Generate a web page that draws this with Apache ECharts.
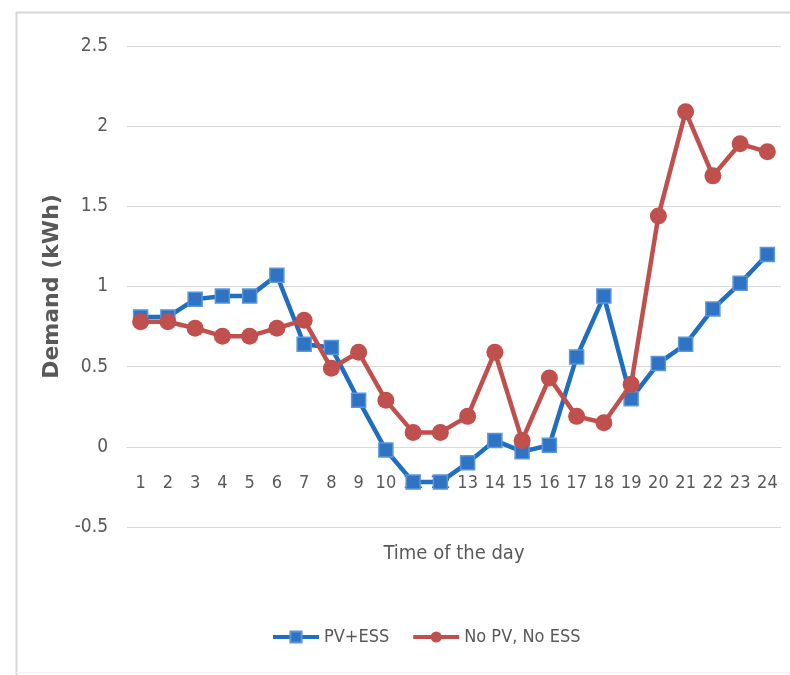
<!DOCTYPE html>
<html>
<head>
<meta charset="utf-8">
<script src="https://cdn.jsdelivr.net/npm/echarts@6/dist/echarts.min.js"></script>
<style>
  html, body { margin: 0; padding: 0; background: #ffffff; }
  #chart { width: 790px; height: 675px; }
</style>
</head>
<body>
<div id="chart"></div>
<script>
// Hour of the day (1..24)
const hours = ['1','2','3','4','5','6','7','8','9','10','11','12','13','14','15','16','17','18','19','20','21','22','23','24'];

// Net demand with PV and storage (kWh)
const pvEss = [0.81, 0.81, 0.92, 0.94, 0.94, 1.07, 0.64, 0.62, 0.29, -0.02, -0.22, -0.22,
               -0.10, 0.04, -0.03, 0.01, 0.56, 0.94, 0.30, 0.52, 0.64, 0.86, 1.02, 1.20];

// Demand without PV or storage (kWh)
const noPvNoEss = [0.78, 0.78, 0.74, 0.69, 0.69, 0.74, 0.79, 0.49, 0.59, 0.29, 0.09, 0.09,
                   0.19, 0.59, 0.04, 0.43, 0.19, 0.15, 0.39, 1.44, 2.09, 1.69, 1.89, 1.84];

// Value axis ticks
const yMin = -0.5, yMax = 2.5, yStep = 0.5;

const seriesNames = ['PV+ESS', 'No PV, No ESS'];

const textColor = '#595959';
const gridColor = '#d9d9d9';
const narrow = '"DejaVu Sans Condensed", "Liberation Sans Narrow", "Liberation Sans", sans-serif';

const chart = echarts.init(document.getElementById('chart'), null, { renderer: 'canvas' });

chart.setOption({
  backgroundColor: '#ffffff',
  animation: false,
  graphic: [
    // outer frame (top and left edges)
    { type: 'line', shape: { x1: 16, y1: 12.5, x2: 790, y2: 12.5 }, style: { stroke: '#d6d6d6', lineWidth: 2 } },
    { type: 'line', shape: { x1: 16.5, y1: 12, x2: 16.5, y2: 675 }, style: { stroke: '#d6d6d6', lineWidth: 2 } },
    { type: 'line', shape: { x1: 16, y1: 672.5, x2: 790, y2: 672.5 }, style: { stroke: '#f2f2f2', lineWidth: 1 } }
  ],
  grid: { left: 127, right: 9, top: 46, bottom: 148 },
  legend: {
    data: seriesNames,
    left: 266,
    top: 623,
    itemWidth: 46,
    itemHeight: 14,
    itemGap: 22,
    lineStyle: { width: 4 },
    textStyle: { color: textColor, fontFamily: narrow, fontSize: 18 }
  },
  xAxis: {
    type: 'category',
    data: hours,
    boundaryGap: true,
    offset: -80,
    name: 'Time of the day',
    nameLocation: 'middle',
    nameGap: 97,
    nameTextStyle: { color: textColor, fontFamily: narrow, fontSize: 20 },
    axisLine: { onZero: false, lineStyle: { color: gridColor, width: 1 } },
    axisTick: { show: false },
    axisLabel: { color: textColor, fontFamily: narrow, fontSize: 18, margin: 27, interval: 0 },
    splitLine: { show: false }
  },
  yAxis: {
    type: 'value',
    min: yMin,
    max: yMax,
    interval: yStep,
    name: 'Demand (kWh)',
    nameLocation: 'middle',
    nameGap: 49,
    nameRotate: 90,
    nameTextStyle: { color: textColor, fontFamily: '"DejaVu Sans", sans-serif', fontWeight: 'bold', fontSize: 22 },
    axisLine: { show: false },
    axisTick: { show: false },
    axisLabel: { color: textColor, fontFamily: narrow, fontSize: 19, margin: 19 },
    splitLine: { lineStyle: { color: gridColor, width: 1 } }
  },
  series: [
    {
      name: seriesNames[0],
      type: 'line',
      data: pvEss,
      symbol: 'rect',
      symbolSize: 14,
      lineStyle: { color: '#1f6ec0', width: 4.5 },
      itemStyle: { color: '#2e73c4', borderColor: '#5a96d8', borderWidth: 1.5 },
      z: 2
    },
    {
      name: seriesNames[1],
      type: 'line',
      data: noPvNoEss,
      symbol: 'circle',
      symbolSize: 17,
      lineStyle: { color: '#c0504d', width: 4.5 },
      itemStyle: { color: '#c0504d', borderColor: '#c0504d', borderWidth: 0 },
      z: 3
    }
  ]
});
</script>
</body>
</html>
